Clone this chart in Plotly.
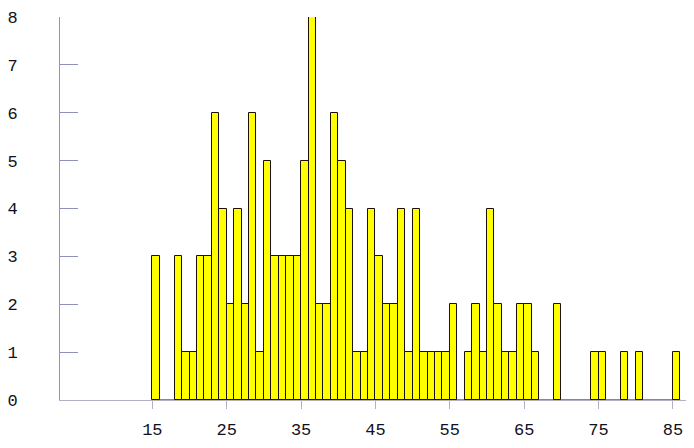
import plotly.graph_objects as go

ages = list(range(15, 86))
counts = [3, 0, 0, 3, 1, 1, 3, 3, 6, 4,   # 15-24
          2, 4, 2, 6, 1, 5, 3, 3, 3, 3,   # 25-34
          5, 8, 2, 2, 6, 5, 4, 1, 1, 4,   # 35-44
          3, 2, 2, 4, 1, 4, 1, 1, 1, 1,   # 45-54
          2, 0, 1, 2, 1, 4, 2, 1, 1, 2,   # 55-64
          2, 1, 0, 0, 2, 0, 0, 0, 0, 1,   # 65-74
          1, 0, 0, 1, 0, 1, 0, 0, 0, 0,   # 75-84
          1]                              # 85
x_ticks = [15, 25, 35, 45, 55, 65, 75, 85]
y_ticks = [0, 1, 2, 3, 4, 5, 6, 7, 8]

xs = [a for a, c in zip(ages, counts) if c > 0]
ys = [c for c in counts if c > 0]

fig = go.Figure()
fig.add_trace(go.Bar(
    x=xs, y=ys, offset=0, width=1,
    marker=dict(color="#FFFF00", line=dict(color="#1a1208", width=1)),
    hoverinfo="x+y",
))
fig.add_trace(go.Scatter(
    x=[ages[0], ages[-1] + 1], y=[0, 0], mode="lines",
    line=dict(color="#1a1208", width=1.2), hoverinfo="skip",
))

axis_font = dict(family="Liberation Mono, Courier New, monospace", size=17, color="#101020")
fig.update_layout(
    width=694, height=448,
    margin=dict(l=52, r=12, t=9, b=56, autoexpand=False),
    paper_bgcolor="white", plot_bgcolor="white",
    showlegend=False, bargap=0,
    xaxis=dict(
        range=[2.58, 87.3], tickvals=x_ticks, ticktext=[str(v) for v in x_ticks],
        showgrid=False, zeroline=False, showline=True, linecolor="#b0b0c8", linewidth=1,
        ticks="outside", ticklen=8, tickcolor="#b0b0c8", tickfont=axis_font,
        ticklabelstandoff=6, automargin=False, ticklabeloverflow="allow",
    ),
    yaxis=dict(
        range=[0, 8], tickvals=y_ticks, ticktext=[str(v) for v in y_ticks],
        showgrid=False, zeroline=False, showline=True, linecolor="#a090b0", linewidth=1,
        ticks="inside", ticklen=18, tickcolor="#9090c0", tickfont=axis_font,
        ticklabelstandoff=38, automargin=False, ticklabeloverflow="allow",
    ),
)

fig.write_html("out.html")
